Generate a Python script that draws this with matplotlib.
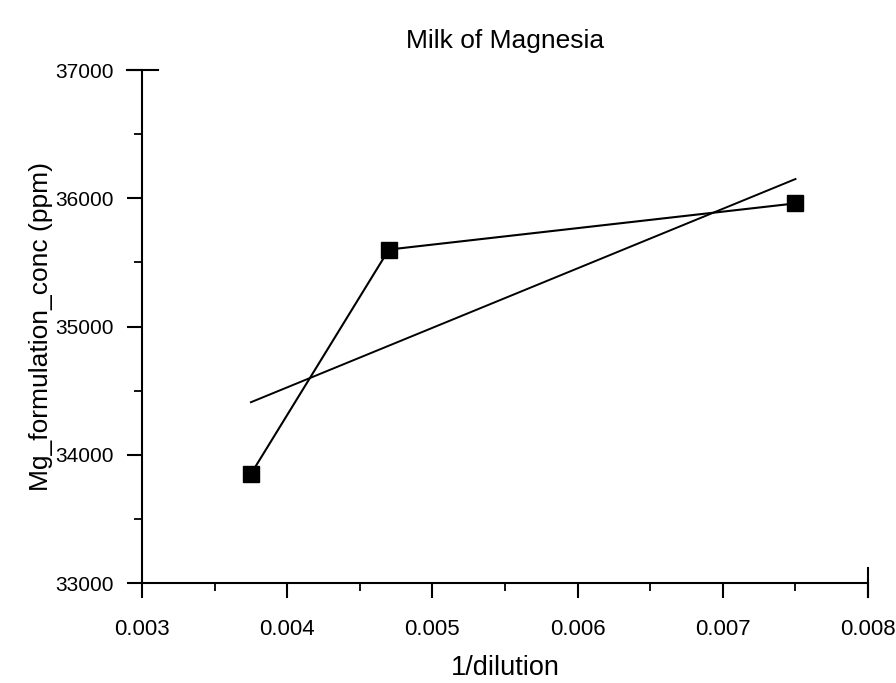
import numpy as np
import matplotlib.pyplot as plt
from matplotlib.ticker import MultipleLocator

plt.rcParams['font.family'] = ['Liberation Sans', 'DejaVu Sans']

inv_dilution = [0.00375, 0.0047, 0.0075]
mg_conc = [33850, 35600, 35960]
x_ticks = [0.003, 0.004, 0.005, 0.006, 0.007, 0.008]
y_ticks = [33000, 34000, 35000, 36000, 37000]

fig = plt.figure(figsize=(8.96, 6.83), dpi=100)
ax = fig.add_axes([0.1585, 0.1464, 0.8103, 0.7511])

# data joined in order
ax.plot(inv_dilution, mg_conc, color="black", linewidth=1.5,
        marker="s", markersize=11.5, clip_on=False)

# least squares line over the x range of the data
slope, icpt = np.polyfit(inv_dilution, mg_conc, 1)
xf = np.array([min(inv_dilution), max(inv_dilution)])
ax.plot(xf, slope * xf + icpt, color="black", linewidth=1.4)

ax.set_xlim(0.003, 0.008)
ax.set_ylim(33000, 37000)
ax.set_xticks(x_ticks)
ax.set_yticks(y_ticks)
ax.set_xticklabels([str(t) for t in x_ticks])
ax.set_yticklabels([str(t) for t in y_ticks])
ax.xaxis.set_minor_locator(MultipleLocator(0.0005))
ax.yaxis.set_minor_locator(MultipleLocator(500))

ax.spines["top"].set_visible(False)
ax.spines["right"].set_visible(False)
for s in ["left", "bottom"]:
    ax.spines[s].set_linewidth(1.5)

ax.tick_params(axis="both", which="major", direction="out", length=11, width=1.5)
ax.tick_params(axis="x", which="major", labelsize=16, pad=15)
ax.tick_params(axis="y", which="major", labelsize=15, pad=9)
ax.tick_params(axis="both", which="minor", direction="out", length=6, width=1.3)

# end caps crossing the axes
ax.plot([-0.02, 0.022], [1, 1], transform=ax.transAxes, color="black",
        linewidth=1.5, clip_on=False)
ax.plot([1, 1], [-0.027, 0.03], transform=ax.transAxes, color="black",
        linewidth=1.5, clip_on=False)

ax.set_title("Milk of Magnesia", fontsize=19, pad=16)
ax.set_xlabel("1/dilution", fontsize=19.5, labelpad=11)
ax.set_ylabel("Mg_formulation_conc (ppm)", fontsize=19, labelpad=2)

plt.savefig("out.png", dpi=100)
